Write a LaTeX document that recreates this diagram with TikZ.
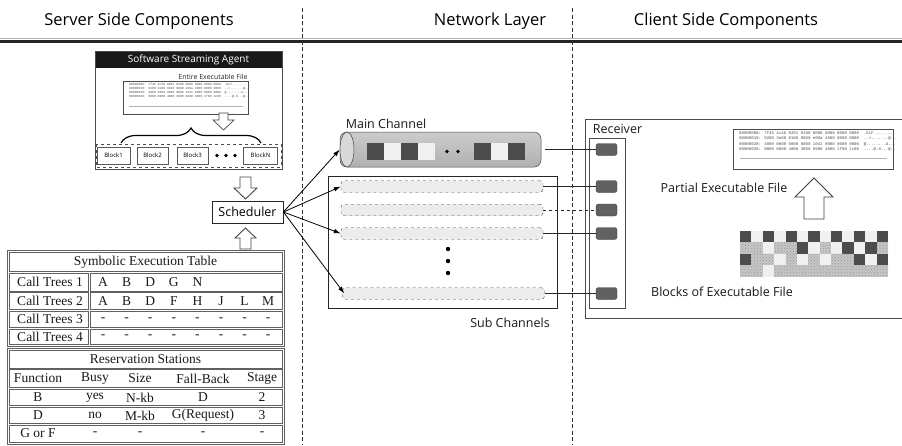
\documentclass[tikz,border=0pt]{standalone}
\usepackage{fontspec}
\setmainfont{Liberation Serif}
\newfontfamily\osans{Open Sans}
\newfontfamily\hexf{Liberation Mono}
\usetikzlibrary{arrows.meta,decorations.pathreplacing,patterns}
\begin{document}
\begin{tikzpicture}[x=1pt,y=-1pt,
  ttl/.style={font=\osans\fontsize{16.5}{18}\selectfont, text=black, inner sep=0},
  lbl/.style={font=\osans\fontsize{12.5}{14}\selectfont, text=black!90, inner sep=0},
  tcell/.style={draw=gray!75!black, line width=0.6pt},
  ttext/.style={font=\fontsize{13.5}{15}\selectfont, inner sep=0, text=black!90},
  hollow/.style={draw=gray!55!black, fill=white, line width=0.9pt, line join=miter},
  arr/.style={-{Latex[length=7pt,width=4.5pt]}, line width=0.8pt},
  subbar/.style={draw=gray!55!black, dashed, fill=gray!15, rounded corners=3pt, minimum width=202pt, minimum height=11.5pt, inner sep=0},
  slot/.style={draw=black!75, fill=black!62, rounded corners=2.5pt, minimum width=21pt, minimum height=12pt, inner sep=0},
  blk/.style={draw=gray!70!black, line width=0.6pt, minimum height=17pt, inner sep=0, font=\osans\fontsize{6}{7}\selectfont},
  hex/.style={font=\hexf\fontsize{3.1}{4}\selectfont, align=left, inner sep=0, text=black!70},
  hexb/.style={font=\hexf\fontsize{4.05}{5.3}\selectfont, align=left, inner sep=0, text=black!70},
  dk/.style={fill=black!70},
  lt/.style={fill=gray!12},
  pt/.style={pattern=crosshatch dots, pattern color=gray!80}
]
\useasboundingbox (0,0) rectangle (902,445);
\fill[white] (0,0) rectangle (902,445);

% ---- titles and separators
\node[ttl] (t1) at (139,21) {Server Side Components};
\node[ttl] (t2) at (490,21) {Network Layer};
\node[ttl] (t3) at (726,21) {Client Side Components};
\draw[gray!60, line width=0.8pt] (0,38) -- (902,38);
\draw[black!85, line width=2.6pt] (0,41.5) -- (902,41.5);
\draw[black!80, line width=0.8pt, dash pattern=on 4pt off 2.5pt] (302,8) -- (302,445);
\draw[black!80, line width=0.8pt, dash pattern=on 4pt off 2.5pt] (572,8) -- (572,445);

% ---- Software Streaming Agent
\fill[black!90] (95,51) rectangle (282,68);
\draw[gray!60!black, line width=0.7pt] (95,51) rectangle (282,169);
\node[font=\osans\fontsize{10}{12}\selectfont, text=white, inner sep=0] (agt) at (188.5,59.5) {Software Streaming Agent};
\node[font=\osans\fontsize{7}{8}\selectfont, inner sep=0, text=black!85] (eef) at (213,77) {Entire Executable File};
\draw[gray!60!black, line width=0.6pt] (123,81) rectangle (248,114);
\node[hex, anchor=north west] (hx1) at (129,83) {00000000: 7f45 4c46 0201 0100 0000 0000 0000 0000 \ .ELF........\\
00000010: 0200 3e00 0100 0000 e00a 4000 0000 0000 \ ..>.......@..\\
00000020: 4000 0000 0000 0000 1041 0000 0000 0000 \ @........A...\\
00000030: 0000 0000 4000 3800 0900 4000 1f00 1c00 \ ....@.8...@..};
\draw[gray!60, line width=0.4pt] (129,106) -- (243,106);
\draw[hollow, line width=0.7pt] (219,113) -- (228,113) -- (228,120) -- (234,120) -- (223.5,130) -- (213,120) -- (219,120) -- cycle;
\draw[decorate, decoration={brace, amplitude=15pt}, line width=1.2pt] (121,143) -- (261,143);
\draw[gray!60!black, dashed, line width=0.5pt] (96,144) rectangle (281,167);
\node[blk, minimum width=33pt] (b1) at (113.5,155.5) {Block1};
\node[blk, minimum width=31pt] (b2) at (152.5,155.5) {Block2};
\node[blk, minimum width=31pt] (b3) at (192.5,155.5) {Block3};
\node[blk, minimum width=34pt] (bn) at (260.5,155.5) {BlockN};
\fill (217,155.5) circle (1.8) (226,155.5) circle (1.8) (235,155.5) circle (1.8);

% ---- Scheduler
\draw[hollow] (240,177) -- (251,177) -- (251,188) -- (257,188) -- (245.5,199) -- (234,188) -- (240,188) -- cycle;
\node[draw=black!85, line width=0.8pt, minimum width=71pt, minimum height=22pt, inner sep=0, font=\osans\fontsize{12.5}{14}\selectfont] (sched) at (247.5,212) {Scheduler};
\draw[hollow] (245.5,228) -- (256,238) -- (251,238) -- (251,249) -- (240,249) -- (240,238) -- (235,238) -- cycle;

% ---- Symbolic Execution Table
\draw[tcell] (7,250) rectangle (284,346.5);
\draw[tcell] (9,252) rectangle (282,271.5);
\node[ttext] (set) at (145.5,262) {Symbolic Execution Table};
\foreach \y/\h [count=\k] in {273/291, 292.5/309.5, 311/327.5, 329/344.5}{
  \draw[tcell] (9,\y) rectangle (88,\h);
  \draw[tcell] (90,\y) rectangle (282,\h);
  \node[ttext] (ct\k) at (50,{(\y+\h)/2}) {Call Trees \k};
}
\foreach \l [count=\i from 0] in {A,B,D,G,N}{
  \node[ttext] (ra\i) at ({103+\i*23.6},282) {\l};}
\foreach \l [count=\i from 0] in {A,B,D,F,H,J,L,M}{
  \node[ttext] (rb\i) at ({103+\i*23.6},301) {\l};
  \node[ttext] (rc\i) at ({103+\i*23.6},319.5) {-};
  \node[ttext] (rd\i) at ({103+\i*23.6},337) {-};}

% ---- Reservation Stations
\draw[tcell] (7,348) rectangle (284,444);
\draw[tcell] (9,350) rectangle (282,368);
\node[ttext] (rst) at (145.5,359) {Reservation Stations};
\draw[tcell] (9,369.5) rectangle (282,387.5);
\draw[tcell] (9,389) rectangle (282,405.5);
\draw[tcell] (9,407) rectangle (282,423.5);
\draw[tcell] (9,425) rectangle (282,442);
\foreach \a/\b/\c/\d/\e/\yy [count=\k] in {Function/Busy/Size/Fall-Back/Stage/378.5, B/yes/N-kb/D/2/397.5, D/no/M-kb/G(Request)/3/415.5, G or F/-/-/-/-/433.5}{
  \node[ttext] (ca\k) at (38,\yy) {\a};
  \node[ttext] (cb\k) at (95,\yy) {\b};
  \node[ttext] (cc\k) at (140,\yy) {\c};
  \node[ttext] (cd\k) at (203,\yy) {\d};
  \node[ttext] (ce\k) at (262,\yy) {\e};
}

% ---- Network layer
\node[lbl] (mcl) at (386,124) {Main Channel};
\node[draw=gray!55!black, line width=0.5pt, rounded corners=7pt, minimum width=201pt, minimum height=35pt, inner sep=0,
      top color=gray!40, bottom color=gray!62] (main) at (440.5,149.5) {};
\draw[gray!55!black, line width=0.5pt, fill=gray!30] (347,149.5) ellipse [x radius=7, y radius=17.5];
\foreach \xa/\c in {367/dk,384/lt,401/dk,418/lt,474/dk,491/lt,508/dk}{
  \fill[\c] (\xa,143) rectangle +(17,17);}
\fill (447,151.5) circle (1.8) (458,151.5) circle (1.8);

\draw[black!85, line width=0.7pt] (328,176) rectangle (557,308);
\node[lbl] (scl) at (510,323) {Sub Channels};
\node[subbar] (s1) at (442,186.5) {};
\node[subbar] (s2) at (442,210) {};
\node[subbar] (s3) at (442,233.5) {};
\node[subbar] (s4) at (443.5,293.5) {};
\fill (448,249) circle (2.2) (448,261) circle (2.2) (448,273) circle (2.2);

\draw[arr] (sched.east) -- (main.west);
\draw[arr] (sched.east) -- (s1.west);
\draw[arr] (sched.east) -- (s3.west);
\draw[arr] (sched.east) -- ([xshift=2pt]s4.west);

% ---- Client side
\draw[gray!60!black, line width=0.6pt] (585,119) rectangle (910,318);
\node[lbl] (rcv) at (617.5,129) {Receiver};
\draw[gray!60!black, line width=0.6pt] (589,138) rectangle (625,308);
\node[slot] (r1) at (606.5,149.5) {};
\node[slot] (r2) at (606.5,186.5) {};
\node[slot] (r3) at (606.5,210) {};
\node[slot] (r4) at (606.5,233.5) {};
\node[slot] (r5) at (606.5,293.5) {};

\draw[black!85, line width=0.7pt] ([xshift=4pt]main.east) -- (r1.west);
\draw[black!85, line width=0.7pt] (s1.east) -- (r2.west);
\draw[black!85, line width=0.7pt, dashed] (s2.east) -- (r3.west);
\draw[black!85, line width=0.7pt] (s3.east) -- (r4.west);
\draw[black!85, line width=0.7pt] (s4.east) -- (r5.west);

\draw[gray!60!black, line width=0.7pt] (733,129) rectangle (893,169);
\node[hexb, anchor=north west] (hx2) at (739,131.5) {00000000: 7f45 4c46 0201 0100 0000 0000 0000 0000 \ .ELF........\\
00000010: 0200 3e00 0100 0000 e00a 4000 0000 0000 \ ..>.......@..\\
00000020: 4000 0000 0000 0000 1041 0000 0000 0000 \ @........A...\\
00000030: 0000 0000 4000 3800 0900 4000 1f00 1c00 \ ....@.8...@..};
\draw[gray!60, line width=0.4pt] (740,158) -- (887,158);

\node[lbl] (pef) at (724,188) {Partial Executable File};
\draw[hollow, draw=black!75] (814,178) -- (833,197) -- (824,197) -- (824,219) -- (804,219) -- (804,197) -- (795,197) -- cycle;

\foreach \r/\row in {0/{0,1,0,1,0,1,0,1,0,1,0,1,0}, 1/{2,2,1,2,2,0,1,2,1,0,1,0,2}, 2/{0,2,2,1,2,1,2,1,2,2,0,1,0}, 3/{2,2,1,2,2,2,2,2,2,2,2,2,2}}{
  \foreach \c [count=\i from 0] in \row {
    \ifcase\c
      \fill[dk] ({740+\i*11.385},{231+\r*11.4}) rectangle +(11.45,11.45);
    \or
      \fill[lt] ({740+\i*11.385},{231+\r*11.4}) rectangle +(11.45,11.45);
    \or
      \fill[gray!45] ({740+\i*11.385},{231+\r*11.4}) rectangle +(11.45,11.45);
      \fill[pt] ({740+\i*11.385},{231+\r*11.4}) rectangle +(11.45,11.45);
    \fi
  }
}
\node[lbl] (bef) at (722,292) {Blocks of Executable File};
\end{tikzpicture}
\end{document}
